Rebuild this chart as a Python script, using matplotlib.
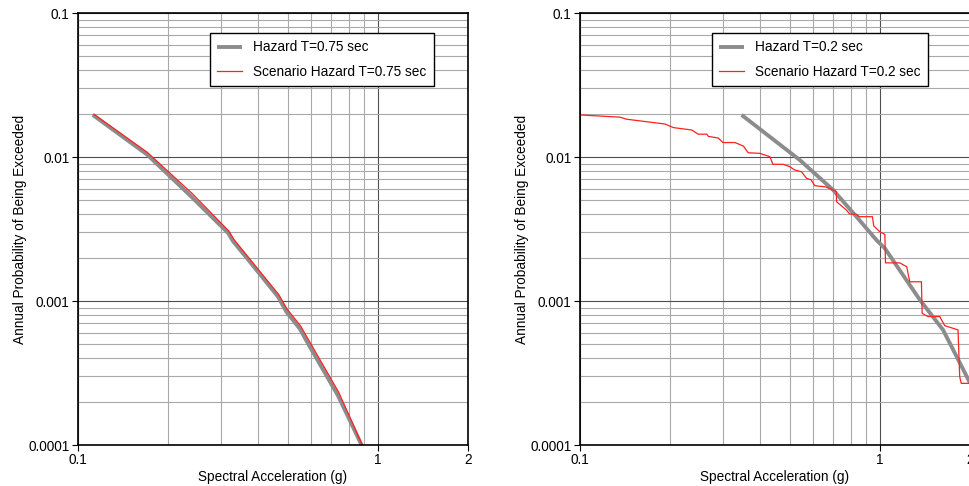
import matplotlib
matplotlib.use("Agg")
import matplotlib.pyplot as plt
from matplotlib.ticker import LogLocator, FixedLocator, FixedFormatter, NullFormatter

plt.rcParams['font.family'] = ['Liberation Sans', 'DejaVu Sans']

# left panel, T=0.75 sec
haz75_x = [0.112, 0.17, 0.239, 0.317, 0.329, 0.370, 0.465, 0.496, 0.55, 0.578, 0.737, 0.883]
haz75_y = [0.0196, 0.0104, 0.0053, 0.00296, 0.0026, 0.00193, 0.00107, 0.00084, 0.00064, 0.00053, 0.00022, 0.0001]
scen75_x = [0.113, 0.17, 0.241, 0.319, 0.331, 0.371, 0.467, 0.498, 0.553, 0.581, 0.741, 0.888]
scen75_y = [0.0198, 0.0108, 0.00555, 0.00305, 0.00268, 0.002, 0.00111, 0.00088, 0.00067, 0.00056, 0.000232, 0.0001]

# right panel, T=0.2 sec
haz02_x = [0.346, 0.541, 0.699, 0.836, 0.975, 1.04, 1.36, 1.626, 2.0]
haz02_y = [0.0196, 0.00953, 0.0059, 0.00385, 0.00265, 0.00232, 0.00102, 0.00063, 0.00027]
scen02_x = [0.1, 0.136, 0.143, 0.192, 0.205, 0.236, 0.248, 0.265, 0.268, 0.289, 0.300,
            0.329, 0.351, 0.364, 0.398, 0.43, 0.44, 0.476, 0.501, 0.52, 0.548, 0.57,
            0.59, 0.607, 0.66, 0.699, 0.717, 0.717, 0.774, 0.794, 0.836, 0.855, 0.945,
            0.955, 1.0, 1.04, 1.045, 1.166, 1.23, 1.259, 1.377, 1.385, 1.449, 1.585,
            1.647, 1.824, 1.848, 1.87, 2.0]
scen02_y = [0.0196, 0.0189, 0.0183, 0.01695, 0.016, 0.0154, 0.0144, 0.0144, 0.0139, 0.01355, 0.0126,
            0.0126, 0.0119, 0.0107, 0.0106, 0.01005, 0.0089, 0.0089, 0.00857, 0.00813, 0.0079, 0.00711,
            0.00694, 0.00632, 0.0062, 0.0059, 0.00574, 0.0049, 0.00428, 0.00402, 0.004, 0.00385, 0.00385,
            0.00332, 0.00303, 0.0029, 0.00184, 0.00184, 0.00173, 0.00136, 0.00136, 0.00082, 0.00078, 0.00078,
            0.000674, 0.00063, 0.000298, 0.000268, 0.000268]

x_ticks = [0.1, 1, 2]
x_labels = ['0.1', '1', '2']
y_ticks = [0.0001, 0.001, 0.01, 0.1]
y_labels = ['0.0001', '0.001', '0.01', '0.1']

W, H = 969, 486
FS = 9.8
fig = plt.figure(figsize=(W / 100, H / 100), dpi=100)


def make_axes(left_px):
    ax = fig.add_axes([left_px / W, (H - 445) / H, 390 / W, 432 / H])
    ax.set_xscale('log')
    ax.set_yscale('log')
    ax.set_xlim(0.1, 2)
    ax.set_ylim(0.0001, 0.1)
    ax.xaxis.set_major_locator(FixedLocator(x_ticks))
    ax.xaxis.set_major_formatter(FixedFormatter(x_labels))
    ax.xaxis.set_minor_locator(LogLocator(base=10, subs=range(2, 10), numticks=20))
    ax.xaxis.set_minor_formatter(NullFormatter())
    ax.yaxis.set_major_locator(FixedLocator(y_ticks))
    ax.yaxis.set_major_formatter(FixedFormatter(y_labels))
    ax.yaxis.set_minor_locator(LogLocator(base=10, subs=range(2, 10), numticks=20))
    ax.yaxis.set_minor_formatter(NullFormatter())
    ax.grid(which='major', color='#505050', lw=0.8)
    ax.grid(which='minor', color='#a8a8a8', lw=0.8)
    # "2" is not a decade, so its grid line stays light
    ax.get_xgridlines()[2].set_color('#a8a8a8')
    ax.tick_params(which='major', direction='out', length=4, width=0.8, labelsize=FS, pad=2)
    ax.tick_params(which='minor', length=0)
    for s in ax.spines.values():
        s.set_linewidth(1.2)
        s.set_color('black')
    ax.set_xlabel('Spectral Acceleration (g)', fontsize=FS)
    ax.set_ylabel('Annual Probability of Being Exceeded', fontsize=FS)
    ax.xaxis.set_label_coords(0.5, -0.058)
    ax.yaxis.set_label_coords(-0.13, 0.5)
    return ax


ax1 = make_axes(78)
ax1.plot(haz75_x, haz75_y, color='#8c8c8c', lw=2.8, label='Hazard T=0.75 sec', solid_capstyle='butt')
ax1.plot(scen75_x, scen75_y, color='#ff2020', lw=0.9, label='Scenario Hazard T=0.75 sec')

ax2 = make_axes(580)
ax2.plot(haz02_x, haz02_y, color='#8c8c8c', lw=2.8, label='Hazard T=0.2 sec', solid_capstyle='butt')
ax2.plot(scen02_x, scen02_y, color='#ff2020', lw=0.9, label='Scenario Hazard T=0.2 sec')

for ax in (ax1, ax2):
    leg = ax.legend(loc='upper left', bbox_to_anchor=(0.338, 0.954), borderaxespad=0,
                    fancybox=False, framealpha=1, edgecolor='black', fontsize=FS,
                    handlelength=1.8, handletextpad=0.85, labelspacing=0.75, borderpad=0.55)
    leg.get_frame().set_linewidth(1.0)

fig.savefig('out.png', dpi=100)
